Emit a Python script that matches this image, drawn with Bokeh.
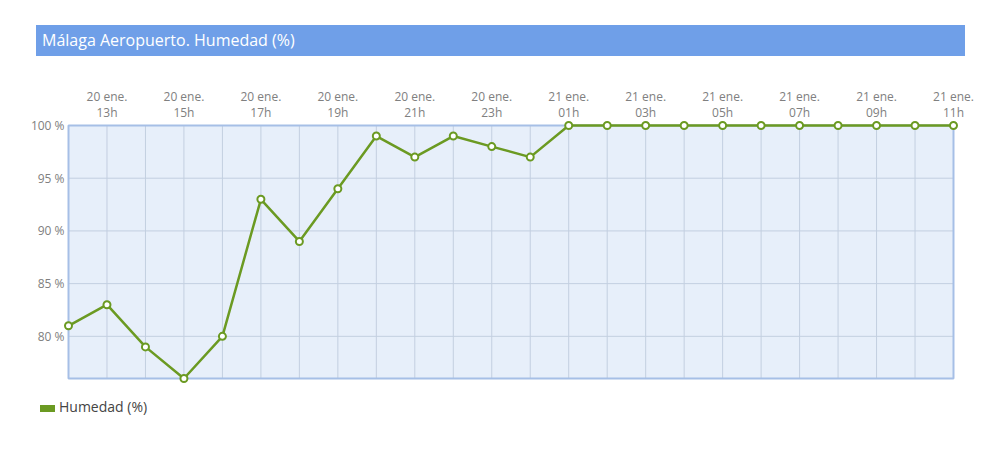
from bokeh.plotting import figure
from bokeh.models import (Range1d, FixedTicker, Div, ColumnDataSource)
from bokeh.layouts import column
from bokeh.embed import file_html
from bokeh.resources import INLINE

# ---- data ----
hours = ["12h", "13h", "14h", "15h", "16h", "17h", "18h", "19h", "20h", "21h", "22h", "23h",
         "00h", "01h", "02h", "03h", "04h", "05h", "06h", "07h", "08h", "09h", "10h", "11h"]
days = ["20 ene."] * 12 + ["21 ene."] * 12
humidity = [81, 83, 79, 76, 80, 93, 89, 94, 99, 97, 99, 98,
            97, 100, 100, 100, 100, 100, 100, 100, 100, 100, 100, 100]
y_ticks = [80, 85, 90, 95, 100]
y_min, y_max = 76, 100
title_text = "Málaga Aeropuerto. Humedad (%)"
series_name = "Humedad (%)"

GREEN = "#6b9a22"
FONT = "Open Sans"
GRID = "#c3cfe0"

x = list(range(len(hours)))
x_min, x_max = x[0], x[-1]
src = ColumnDataSource(dict(x=x, y=humidity))

# small padding so markers on the plot border are not clipped
PX, PY = 0.13, 0.474

title = Div(
    text=(f'<div style="background:#6f9fe8;color:#ffffff;font-family:\'{FONT}\';font-size:16px;'
          f'height:31px;line-height:31px;padding-left:6px;width:929px;box-sizing:border-box;'
          f'white-space:nowrap">{title_text}</div>'),
    width=929, height=31, margin=(25, 0, 0, 36))

p = figure(width=984, height=334, output_backend="svg", toolbar_location=None,
           x_range=Range1d(x_min - PX, x_max + PX), y_range=Range1d(y_min - PY, y_max + PY),
           x_axis_location="above",
           min_border_left=63, min_border_right=26, min_border_top=64, min_border_bottom=7)

p.background_fill_color = "#ffffff"
p.border_fill_color = "#ffffff"
p.outline_line_color = None
p.xgrid.grid_line_color = None
p.ygrid.grid_line_color = None

# x axis (top)
xa = p.xaxis[0]
xa.ticker = FixedTicker(ticks=x)
xa.major_label_overrides = {i: (f"{days[i]}\n{hours[i]}" if i % 2 == 1 else "") for i in x}
xa.axis_line_color = None
xa.major_tick_line_color = None
xa.minor_tick_line_color = None
xa.major_label_text_font = FONT
xa.major_label_text_font_size = "12px"
xa.major_label_text_color = "#808080"
xa.major_label_text_line_height = 0.92
xa.major_label_standoff = -6

# y axis
ya = p.yaxis[0]
ya.ticker = FixedTicker(ticks=y_ticks)
ya.major_label_overrides = {v: f"{v} %" for v in y_ticks}
ya.axis_line_color = None
ya.major_tick_line_color = None
ya.minor_tick_line_color = None
ya.major_label_text_font = FONT
ya.major_label_text_font_size = "12px"
ya.major_label_text_color = "#808080"
ya.major_label_standoff = -7

# plot area background
p.quad(left=[x_min], right=[x_max], bottom=[y_min], top=[y_max],
       fill_color="#e7effa", line_color=None)

# grid lines
vx = x[1:-1]
p.segment(x0=vx, x1=vx, y0=[y_min] * len(vx), y1=[y_max] * len(vx), line_color=GRID, line_width=1)
hy = [v for v in y_ticks if y_min < v < y_max]
p.segment(x0=[x_min] * len(hy), x1=[x_max] * len(hy), y0=hy, y1=hy, line_color=GRID, line_width=1)

# plot area border
p.quad(left=[x_min], right=[x_max], bottom=[y_min], top=[y_max],
       fill_color=None, line_color="#a6bfe6", line_width=2)

p.line("x", "y", source=src, line_color=GREEN, line_width=2.5)
p.scatter("x", "y", source=src, size=7, fill_color="#ffffff", line_color=GREEN, line_width=2)

legend_div = Div(
    text=(f'<div style="font-family:\'{FONT}\';font-size:14px;color:#444444;height:20px;'
          f'line-height:20px;white-space:nowrap">'
          f'<span style="display:inline-block;width:15px;height:7px;background:{GREEN};'
          f'vertical-align:middle;margin-right:4px"></span>{series_name}</div>'),
    width=200, height=20, margin=(7, 0, 0, 40))

layout = column(title, p, legend_div)
open("out.html", "w").write(file_html(layout, INLINE))
